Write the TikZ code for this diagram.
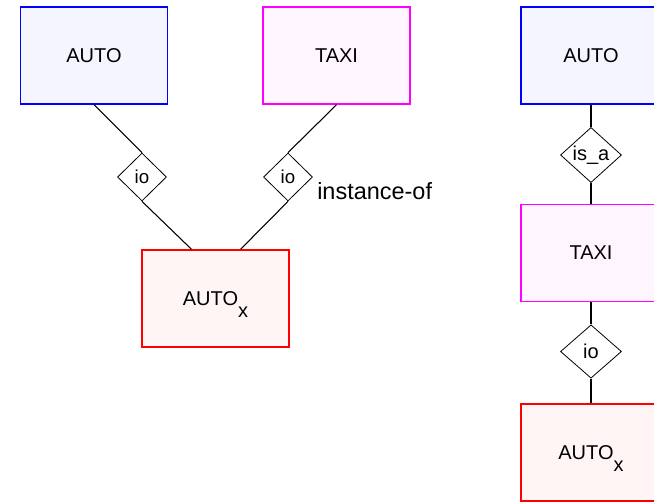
\documentclass[tikz,border=0pt]{standalone}
\usepackage{fontspec}
\setmainfont{Liberation Sans}
\usetikzlibrary{shapes.geometric}
\definecolor{pink}{rgb}{1,0,1}

\begin{document}
\begin{tikzpicture}[x=0.75pt,y=0.75pt]
\tikzstyle{every node}+=[inner sep=0pt, font=\fontsize{15}{18}\selectfont]
\tikzstyle{entity}=[draw, line width=1.1pt, minimum width=110.25pt, minimum height=72.75pt]
\tikzstyle{relation}=[draw, diamond, line width=0.6pt, minimum width=36.75pt, minimum height=36pt, font=\fontsize{14}{16}\selectfont]
\tikzstyle{link}=[line width=0.8pt]
\useasboundingbox (0,0) rectangle (654,-501);
% left: one object, two classes
\node [entity, draw=blue, fill=blue!4] (autoA) at (94,-55.5) {AUTO};
\node [entity, draw=pink, fill=pink!4] (taxiA) at (336.5,-55.5) {TAXI};
\node [relation] (ioA) at (142,-177) {io};
\node [relation] (ioB) at (288,-177) {io};
\node [entity, draw=red, fill=red!4] (autoxA) at (215.5,-298.5) {AUTO\smash{\raisebox{-9pt}{x}}};
\node [anchor=base west, font=\fontsize{17.6}{20}\selectfont] (instof) at (317,-199.3) {instance-of};
\draw [link] (autoA.south) -- (ioA.north);
\draw [link] (ioA.south) -- (autoxA.116.8);
\draw [link] (taxiA.south) -- (ioB.north);
\draw [link] (ioB.south) -- (autoxA.63.2);
% right: chain is_a / io
\node [entity, draw=blue, fill=blue!4, minimum width=105pt] (autoB) at (591,-55.5) {AUTO};
\node [relation, minimum width=45.75pt, minimum height=40pt, font=\fontsize{15}{18}\selectfont] (isa) at (591,-155) {is\_a};
\node [entity, draw=pink, fill=pink!4, minimum width=105pt] (taxiB) at (591,-253) {TAXI};
\node [relation, minimum width=45.75pt, minimum height=40pt, font=\fontsize{15}{18}\selectfont] (ioC) at (591,-351.5) {io};
\node [entity, draw=red, fill=red!4, minimum width=105pt] (autoxB) at (591,-452.5) {AUTO\smash{\raisebox{-9pt}{x}}};
\draw [link] (autoB.south) -- (isa.north);
\draw [link] (isa.south) -- (taxiB.north);
\draw [link] (taxiB.south) -- (ioC.north);
\draw [link] (ioC.south) -- (autoxB.north);
\end{tikzpicture}
\end{document}
